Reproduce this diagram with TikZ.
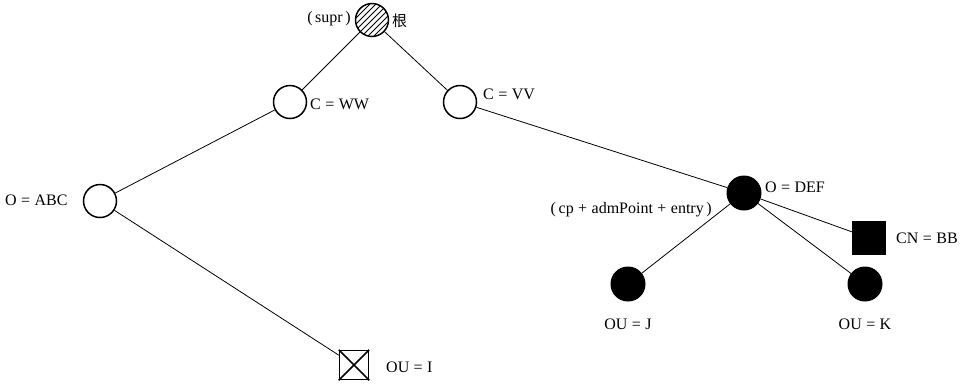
\documentclass[tikz,border=0pt]{standalone}
\usepackage{fontspec}
\setmainfont{Liberation Serif}
\newfontfamily\cjk{Noto Sans CJK SC}
\begin{document}
\begin{tikzpicture}[x=1pt,y=-1pt,
  hollow/.style={circle,draw,line width=1.5pt,minimum size=33pt,inner sep=0pt},
  solid/.style={circle,fill=black,draw,line width=1pt,minimum size=34pt,inner sep=0pt},
  sq/.style={rectangle,fill=black,draw,minimum size=33pt,inner sep=0pt},
  xbox/.style={rectangle,draw,line width=1.5pt,minimum size=29pt,inner sep=0pt},
  lab/.style={font=\fontsize{16}{18}\selectfont,inner sep=0pt},
  edge/.style={line width=0.8pt}]
\useasboundingbox (0,0) rectangle (960,384);
\node[hollow] (root) at (372,20) {};
\begin{scope}
\clip (372,20) circle (16.3);
\foreach \i in {-42,-36,...,42} \draw[line width=0.9pt] (372+\i-20,40) -- (372+\i+20,0);
\end{scope}
\node[hollow] (ww) at (290,102) {};
\node[hollow] (vv) at (460,102) {};
\node[hollow] (abc) at (100,201) {};
\node[solid] (def) at (744,193) {};
\node[sq] (bb) at (869,238) {};
\node[solid] (j) at (628,284) {};
\node[solid] (k) at (865,284) {};
\node[xbox] (i) at (354,365) {};
\draw[line width=1.5pt] (i.north west) -- (i.south east) (i.north east) -- (i.south west);

\draw[edge] (root) -- (ww);
\draw[edge] (root) -- (vv);
\draw[edge] (ww) -- (abc);
\draw[edge] (vv) -- (def);
\draw[edge] (abc) -- (i);
\draw[edge] (def) -- (bb);
\draw[edge] (def) -- (j);
\draw[edge] (def) -- (k);

\node[lab,anchor=east] (t1) at (351,19) {(\,supr\,)};
\node[lab,anchor=west] (t2) at (392,21) {\cjk\fontsize{15}{17}\selectfont 根};
\node[lab,anchor=west] (t3) at (310,104) {C\;=\;WW};
\node[lab,anchor=west] (t4) at (483,94) {C\;=\;VV};
\node[lab,anchor=west] (t5) at (5,200) {O\;=\;ABC};
\node[lab,anchor=west] (t6) at (765,187) {O\;=\;DEF};
\node[lab,anchor=east] (t7) at (712,210) {(\,cp\;+\;admPoint\;+\;entry\,)};
\node[lab,anchor=west] (t8) at (896,238) {CN\;=\;BB};
\node[lab] (t9) at (628,324) {OU\;=\;J};
\node[lab] (t10) at (865,324) {OU\;=\;K};
\node[lab,anchor=west] (t11) at (386,367) {OU\;=\;I};
\end{tikzpicture}
\end{document}
